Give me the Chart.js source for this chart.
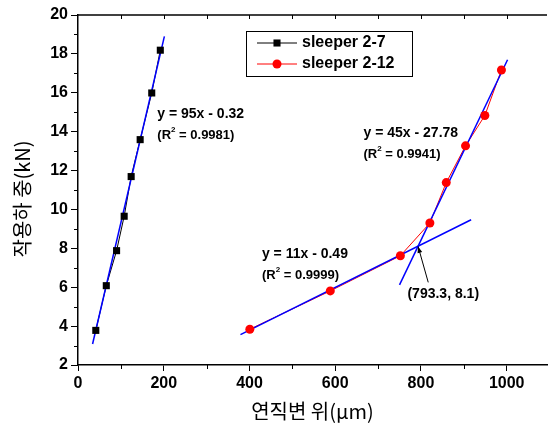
<!DOCTYPE html>
<html>
<head>
<meta charset="utf-8">
<style>
  html, body { margin: 0; padding: 0; background: #fff; }
</style>
</head>
<body>
<canvas id="chart" width="552" height="427"></canvas>
<script src="https://cdn.jsdelivr.net/npm/chart.js"></script>
<script>
// axis ticks
const X_TICKS = [0, 200, 400, 600, 800, 1000];
const X_MINOR = [100, 300, 500, 700, 900];
const Y_TICKS = [2, 4, 6, 8, 10, 12, 14, 16, 18, 20];
const Y_MINOR = [3, 5, 7, 9, 11, 13, 15, 17, 19];

// measured points
const S27_X = [41.5, 66, 90, 107.7, 124, 145, 172, 192];
const S27_Y = [3.78, 6.08, 7.88, 9.65, 11.69, 13.59, 15.99, 18.19];
const S212_X = [400.8, 588.5, 752, 820.8, 859, 904, 949, 987.7];
const S212_Y = [3.84, 5.81, 7.62, 9.30, 11.38, 13.27, 14.83, 17.17];

// fitted lines (end points)
const FIT27_X = [34, 201.5];
const FIT27_Y = [3.08, 18.9];
const FITLOW_X = [379, 917];
const FITLOW_Y = [3.56, 9.47];
const FITHIGH_X = [750, 1002];
const FITHIGH_Y = [6.12, 17.7];

// equation labels: [x, y, equation, r2]
const EQ_LABELS = [
    [185, 14.9, 'y = 95x - 0.32', '0.9981'],
    [666, 13.93, 'y = 45x - 27.78', '0.9941'],
    [429, 7.71, 'y = 11x - 0.49', '0.9999']
];
const CROSS = [793.3, 8.1];
const CROSS_TEXT = [768.5, 5.65, '(793.3, 8.1)'];
const CROSS_TAIL = [817, 6.25];

const pts = (xs, ys) => xs.map((x, i) => ({ x: x, y: ys[i] }));
const BOLD = '"Liberation Sans", Arial, sans-serif';

// connecting lines go underneath, fits in the middle, markers on top
function series(label, xs, ys, color, style, radius) {
    return [
        {
            label: label,
            data: pts(xs, ys),
            showLine: true,
            borderColor: color,
            borderWidth: 1,
            pointRadius: 0,
            pointStyle: style,
            pointBackgroundColor: color,
            markerRadius: radius,
            order: 3
        },
        {
            data: pts(xs, ys),
            showLine: false,
            pointStyle: style,
            pointRadius: radius,
            pointBackgroundColor: color,
            pointBorderWidth: 0,
            order: 1
        }
    ];
}

function fitLine(xs, ys) {
    return {
        data: pts(xs, ys),
        showLine: true,
        borderColor: '#0000ff',
        borderWidth: 1.5,
        pointRadius: 0,
        order: 2
    };
}

const extras = {
    id: 'extras',
    afterDraw(chart) {
        const ctx = chart.ctx;
        const xs = chart.scales.x, ys = chart.scales.y;
        const a = chart.chartArea;
        ctx.save();
        ctx.strokeStyle = '#000';
        ctx.lineWidth = 1.5;
        // top frame
        ctx.beginPath();
        ctx.moveTo(a.left, a.top);
        ctx.lineTo(a.right, a.top);
        ctx.stroke();
        ctx.lineWidth = 1;
        ctx.beginPath();
        X_MINOR.forEach(v => {
            const p = Math.round(xs.getPixelForValue(v)) + 0.5;
            ctx.moveTo(p, a.bottom); ctx.lineTo(p, a.bottom + 4);
        });
        X_MINOR.concat(X_TICKS.slice(1)).forEach(v => {
            const p = Math.round(xs.getPixelForValue(v)) + 0.5;
            ctx.moveTo(p, a.top); ctx.lineTo(p, a.top + 4);
        });
        Y_MINOR.forEach(v => {
            const p = Math.round(ys.getPixelForValue(v)) + 0.5;
            ctx.moveTo(a.left - 4, p); ctx.lineTo(a.left, p);
        });
        ctx.stroke();

        // equations
        ctx.fillStyle = '#000';
        ctx.textBaseline = 'middle';
        ctx.textAlign = 'left';
        EQ_LABELS.forEach(l => {
            const px = xs.getPixelForValue(l[0]);
            const py = ys.getPixelForValue(l[1]);
            ctx.font = 'bold 14px ' + BOLD;
            ctx.fillText(l[2], px, py);
            const ry = py + 21;
            ctx.font = 'bold 13px ' + BOLD;
            ctx.fillText('(R', px, ry);
            let w = ctx.measureText('(R').width;
            ctx.font = 'bold 8px ' + BOLD;
            ctx.fillText('2', px + w, ry - 5);
            w += ctx.measureText('2').width;
            ctx.font = 'bold 13px ' + BOLD;
            ctx.fillText(' = ' + l[3] + ')', px + w, ry);
        });

        // intersection label and arrow
        ctx.font = 'bold 14px ' + BOLD;
        ctx.fillText(CROSS_TEXT[2], xs.getPixelForValue(CROSS_TEXT[0]), ys.getPixelForValue(CROSS_TEXT[1]));
        const tx = xs.getPixelForValue(CROSS[0]), ty = ys.getPixelForValue(CROSS[1]);
        const sx = xs.getPixelForValue(CROSS_TAIL[0]), sy = ys.getPixelForValue(CROSS_TAIL[1]);
        ctx.beginPath();
        ctx.moveTo(sx, sy); ctx.lineTo(tx, ty);
        ctx.stroke();
        const ang = Math.atan2(ty - sy, tx - sx);
        ctx.beginPath();
        ctx.moveTo(tx, ty);
        ctx.lineTo(tx - 7 * Math.cos(ang - 0.35), ty - 7 * Math.sin(ang - 0.35));
        ctx.lineTo(tx - 7 * Math.cos(ang + 0.35), ty - 7 * Math.sin(ang + 0.35));
        ctx.closePath();
        ctx.fill();

        // legend box
        ctx.lineWidth = 1;
        ctx.strokeRect(246.5, 31.5, 166, 45);
        chart.data.datasets.filter(d => d.label).forEach((ds, i) => {
            const y = 43 + i * 21;
            ctx.strokeStyle = ds.borderColor;
            ctx.lineWidth = 1;
            ctx.beginPath();
            ctx.moveTo(257, y); ctx.lineTo(297, y);
            ctx.stroke();
            ctx.fillStyle = ds.pointBackgroundColor;
            Chart.helpers.drawPoint(ctx, {
                pointStyle: ds.pointStyle, radius: ds.markerRadius, borderWidth: 0, rotation: 0
            }, 277, y);
            ctx.fillStyle = '#000';
            ctx.font = 'bold 16px ' + BOLD;
            ctx.fillText(ds.label, 302, y);
        });
        ctx.restore();
    }
};

new Chart(document.getElementById('chart'), {
    type: 'scatter',
    data: {
        datasets: [
            ...series('sleeper 2-7', S27_X, S27_Y, '#000000', 'rect', 5),
            ...series('sleeper 2-12', S212_X, S212_Y, '#ff0000', 'circle', 4.5),
            fitLine(FIT27_X, FIT27_Y),
            fitLine(FITLOW_X, FITLOW_Y),
            fitLine(FITHIGH_X, FITHIGH_Y)
        ]
    },
    options: {
        responsive: false,
        animation: false,
        layout: { padding: { top: 15, right: 0, bottom: 0, left: 0 } },
        plugins: {
            legend: { display: false },
            tooltip: { enabled: false }
        },
        scales: {
            x: {
                type: 'linear',
                min: 0,
                max: 1094,
                afterBuildTicks: s => { s.ticks = X_TICKS.map(v => ({ value: v })); },
                afterFit: s => { s.height = 62; },
                border: { color: '#000', width: 1.5 },
                grid: { drawOnChartArea: false, color: '#000', lineWidth: 1, tickLength: 6 },
                ticks: {
                    color: '#000', padding: 3, maxRotation: 0,
                    callback: v => String(v),
                    font: { family: BOLD, size: 16, weight: 'bold' }
                },
                title: {
                    display: true,
                    text: '연직변 위(μm)',
                    color: '#000',
                    padding: { top: 0, bottom: 4 },
                    font: { family: '"Noto Sans CJK KR", sans-serif', size: 20 }
                }
            },
            y: {
                min: 2,
                max: 20,
                afterBuildTicks: s => { s.ticks = Y_TICKS.map(v => ({ value: v })); },
                afterFit: s => { s.width = 78; },
                border: { color: '#000', width: 1.5 },
                grid: { drawOnChartArea: false, color: '#000', lineWidth: 1, tickLength: 7 },
                ticks: {
                    color: '#000', padding: 3,
                    callback: v => String(v),
                    font: { family: BOLD, size: 16, weight: 'bold' }
                },
                title: {
                    display: true,
                    text: '작용하 중(kN)    ',
                    color: '#000',
                    padding: { top: 10, bottom: 0 },
                    font: { family: '"Noto Sans CJK KR", sans-serif', size: 20 }
                }
            }
        }
    },
    plugins: [extras]
});
</script>
</body>
</html>
